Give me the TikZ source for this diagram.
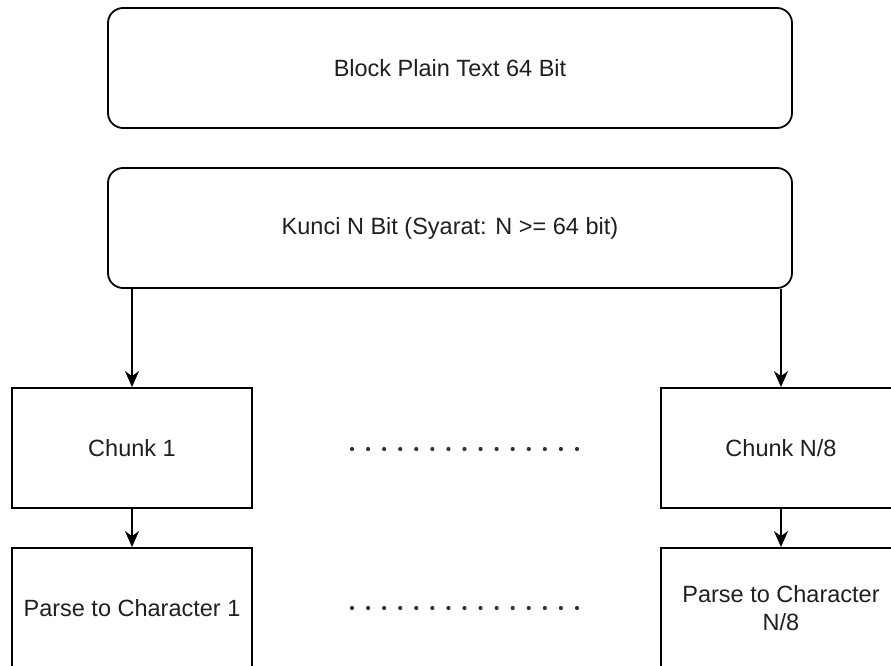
\documentclass[tikz,border=0pt]{standalone}
\usepackage{fontspec}
\setmainfont{Liberation Sans}
\usetikzlibrary{arrows.meta}
\begin{document}
\begin{tikzpicture}[x=1pt,y=-1pt,
  every node/.style={font=\fontsize{23.5}{28}\selectfont, text=black!88},
  rbox/.style={draw, line width=1.8pt, rounded corners=15pt, minimum width=684pt, minimum height=120pt, inner sep=0pt},
  sbox/.style={draw, line width=1.8pt, minimum width=240pt, minimum height=120pt, inner sep=0pt, align=center},
  arr/.style={draw, line width=1.8pt, -{Stealth[length=16pt,width=14pt,inset=5pt]}},
  dotrow/.style={draw, line width=4.2pt, line cap=round, black!80, dash pattern=on 0pt off 16.07pt}
]
\useasboundingbox (0,0) rectangle (891,666);
\clip (0,0) rectangle (891,666);
\node[rbox] (top) at (450,68) {Block Plain Text 64 Bit};
\node[rbox] (kunci) at (450,228) {Kunci N Bit (Syarat: N >= 64 bit)};
\node[sbox] (c1) at (132,448) {Chunk 1};
\node[sbox] (cn) at (781,448) {Chunk N/8};
\node[sbox] (p1) at (132,608) {Parse to Character 1};
\node[sbox] (pn) at (781,608) {Parse to Character\\N/8};
\path[arr] (kunci.south -| c1.north) -- (c1.north);
\path[arr] (kunci.south -| cn.north) -- (cn.north);
\path[arr] (c1.south) -- (p1.north);
\path[arr] (cn.south) -- (pn.north);
\coordinate (d1a) at (352,449);
\coordinate (d1b) at (578,449);
\coordinate (d2a) at (352,608);
\coordinate (d2b) at (578,608);
\path[dotrow] (d1a) -- (d1b);
\path[dotrow] (d2a) -- (d2b);
\end{tikzpicture}
\end{document}
